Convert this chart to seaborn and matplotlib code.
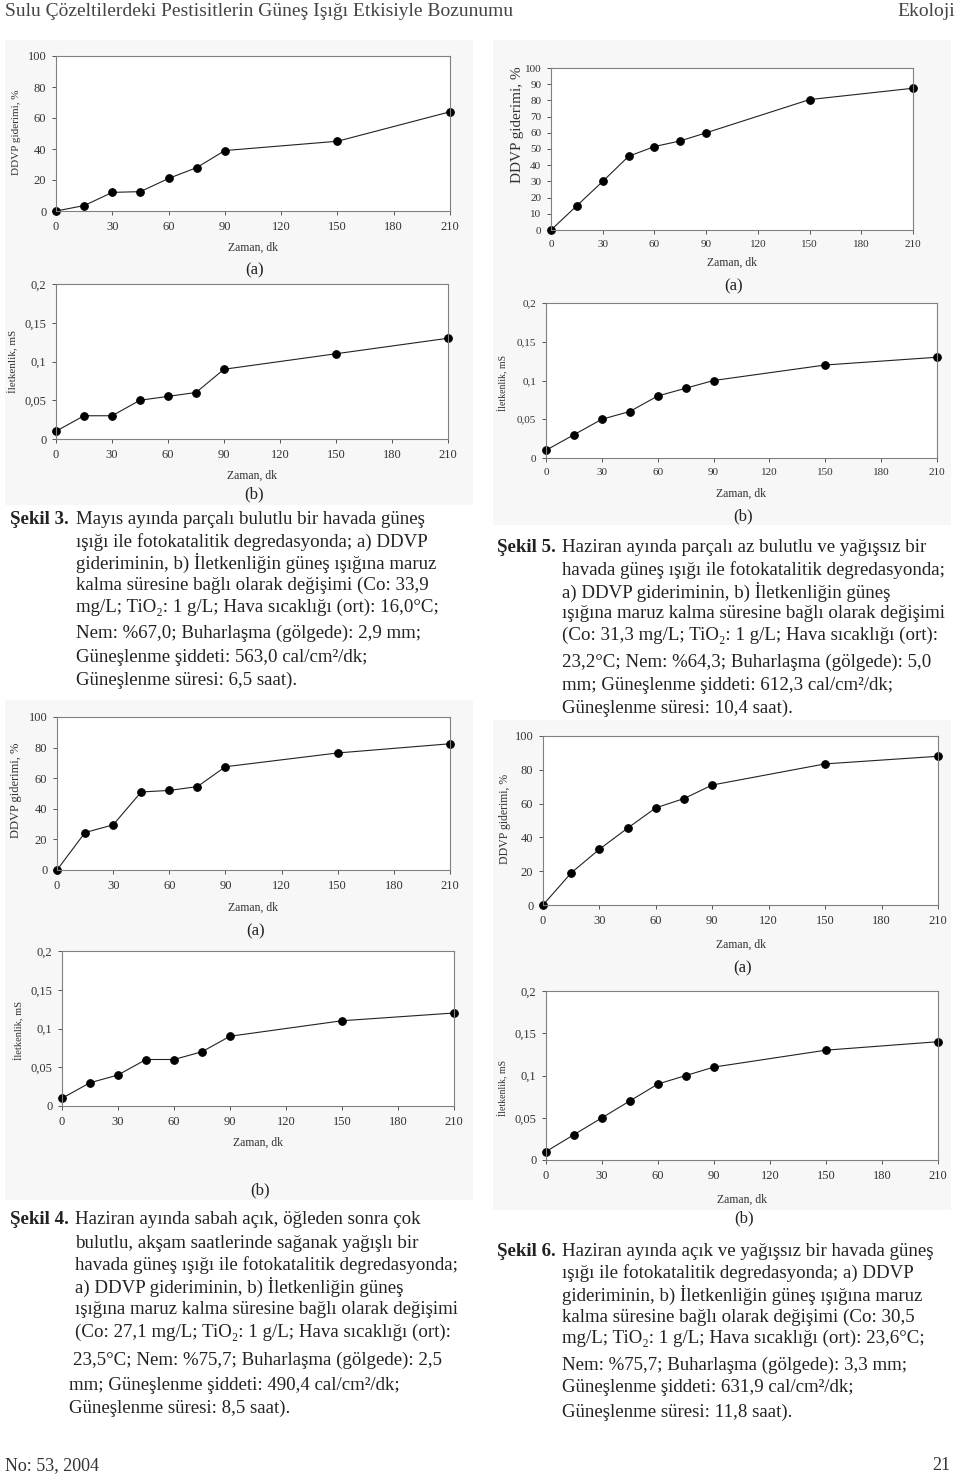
import numpy as np
import pandas as pd
import seaborn as sns
import matplotlib.pyplot as plt
from matplotlib.patches import Rectangle

W, H = 960, 1484
SERIF = ['Liberation Serif', 'DejaVu Serif']

# sampling times (dk) and axis ticks
zaman = [0, 15, 30, 45, 60, 75, 90, 150, 210]
x_ticks = [0, 30, 60, 90, 120, 150, 180, 210]

# values
sekil3_ddvp = [0, 3.5, 12, 12.5, 21, 28, 39, 45, 64]
sekil3_iletkenlik = [0.01, 0.03, 0.03, 0.05, 0.055, 0.06, 0.09, 0.11, 0.13]
sekil5_ddvp = [0, 15, 30, 45.5, 51.5, 55, 60, 80.5, 87.5]
sekil5_iletkenlik = [0.01, 0.03, 0.05, 0.06, 0.08, 0.09, 0.10, 0.12, 0.13]
sekil4_ddvp = [0, 24.5, 29.5, 51, 52, 54.5, 67.5, 76.5, 82.5]
sekil4_iletkenlik = [0.01, 0.03, 0.04, 0.06, 0.06, 0.07, 0.09, 0.11, 0.12]
sekil6_ddvp = [0, 19, 33, 45.5, 57.5, 63, 71, 83.5, 88]
sekil6_iletkenlik = [0.01, 0.03, 0.05, 0.07, 0.09, 0.10, 0.11, 0.13, 0.14]

ddvp_ticks_20 = [0, 20, 40, 60, 80, 100]
ddvp_ticks_10 = list(range(0, 101, 10))
ilet_ticks = [0, 0.05, 0.1, 0.15, 0.2]
ilet_labels = ['0', '0,05', '0,1', '0,15', '0,2']

header_left = 'Sulu Çözeltilerdeki Pestisitlerin Güneş Işığı Etkisiyle Bozunumu'
header_right = 'Ekoloji'
footer_left = 'No: 53, 2004'
footer_right = '21'

cap3 = ['Mayıs ayında parçalı bulutlu bir havada güneş',
        'ışığı ile fotokatalitik degredasyonda; a) DDVP',
        'gideriminin, b) İletkenliğin güneş ışığına maruz',
        'kalma süresine bağlı olarak değişimi (Co: 33,9',
        'mg/L; TiO₂: 1 g/L; Hava sıcaklığı (ort): 16,0°C;',
        'Nem: %67,0; Buharlaşma (gölgede): 2,9 mm;',
        'Güneşlenme şiddeti: 563,0 cal/cm²/dk;',
        'Güneşlenme süresi: 6,5 saat).']
cap5 = ['Haziran ayında parçalı az bulutlu ve yağışsız bir',
        'havada güneş ışığı ile fotokatalitik degredasyonda;',
        'a) DDVP gideriminin, b) İletkenliğin güneş',
        'ışığına maruz kalma süresine bağlı olarak değişimi',
        '(Co: 31,3 mg/L; TiO₂: 1 g/L; Hava sıcaklığı (ort):',
        '23,2°C; Nem: %64,3; Buharlaşma (gölgede): 5,0',
        'mm; Güneşlenme şiddeti: 612,3 cal/cm²/dk;',
        'Güneşlenme süresi: 10,4 saat).']
cap4 = ['Haziran ayında sabah açık, öğleden sonra çok',
        'bulutlu, akşam saatlerinde sağanak yağışlı bir',
        'havada güneş ışığı ile fotokatalitik degredasyonda;',
        'a) DDVP gideriminin, b) İletkenliğin güneş',
        'ışığına maruz kalma süresine bağlı olarak değişimi',
        '(Co: 27,1 mg/L; TiO₂: 1 g/L; Hava sıcaklığı (ort):',
        '23,5°C; Nem: %75,7; Buharlaşma (gölgede): 2,5',
        'mm; Güneşlenme şiddeti: 490,4 cal/cm²/dk;',
        'Güneşlenme süresi: 8,5 saat).']
cap6 = ['Haziran ayında açık ve yağışsız bir havada güneş',
        'ışığı ile fotokatalitik degredasyonda; a) DDVP',
        'gideriminin, b) İletkenliğin güneş ışığına maruz',
        'kalma süresine bağlı olarak değişimi (Co: 30,5',
        'mg/L; TiO₂: 1 g/L; Hava sıcaklığı (ort): 23,6°C;',
        'Nem: %75,7; Buharlaşma (gölgede): 3,3 mm;',
        'Güneşlenme şiddeti: 631,9 cal/cm²/dk;',
        'Güneşlenme süresi: 11,8 saat).']

sns.set_theme(style='white')
plt.rcParams['font.family'] = SERIF

fig = plt.figure(figsize=(W / 100, H / 100), dpi=100)


def ftext(x, y, s, **kw):
    kw.setdefault('family', SERIF)
    return fig.text(x / W, 1 - y / H, s, **kw)


# faint grey blocks behind the pasted charts
for (bx0, bx1, by0, by1) in [(5, 473, 40, 505), (493, 951, 40, 525),
                             (5, 473, 700, 1200), (493, 951, 720, 1210)]:
    fig.patches.append(Rectangle((bx0 / W, 1 - by1 / H), (bx1 - bx0) / W, (by1 - by0) / H,
                                 transform=fig.transFigure, facecolor='#f7f7f7',
                                 edgecolor='none', zorder=-10))


def panel(box, yvals, yticks, ylabels, ymax, ylabel, lab_xy, lab_fs, tick_fs, xlab_y, sub, sub_y):
    x0, x1, yt, yb = box
    ax = fig.add_axes([x0 / W, 1 - yb / H, (x1 - x0) / W, (yb - yt) / H])
    ax.set_zorder(2)
    ax.set_facecolor('white')
    sns.lineplot(x=zaman, y=yvals, ax=ax, color='#222222', lw=0.8, marker='o',
                 markersize=5.5, markeredgecolor='black', markerfacecolor='black',
                 clip_on=False)
    ax.set_xlim(0, 210)
    ax.set_ylim(0, ymax)
    ax.set_xticks(x_ticks)
    ax.set_xticklabels([str(t) for t in x_ticks])
    ax.set_yticks(yticks)
    ax.set_yticklabels(ylabels)
    ax.set_xlabel('')
    ax.set_ylabel('')
    ax.tick_params(axis='both', which='major', direction='out', length=3, width=0.7,
                   colors='#555555', labelsize=tick_fs, labelcolor='#333333', pad=4,
                   bottom=True, left=True)
    for sp in ax.spines.values():
        sp.set_color('#808080')
        sp.set_linewidth(0.8)
    for lb in ax.get_xticklabels() + ax.get_yticklabels():
        lb.set_family(SERIF)
    ftext(lab_xy[0], lab_xy[1], ylabel, rotation=90, ha='center', va='center',
          fontsize=lab_fs, color='#333333')
    ftext((x0 + x1) / 2, xlab_y, 'Zaman, dk', ha='center', va='center',
          fontsize=8.5, color='#333333')
    ftext((x0 + x1) / 2 + 2, sub_y, sub, ha='center', va='center', fontsize=12,
          color='#222222')
    return ax


panel((56, 450, 56, 211), sekil3_ddvp, ddvp_ticks_20, [str(t) for t in ddvp_ticks_20], 100,
      'DDVP giderimi, %', (17, 132), 8, 9, 248, '(a)', 270)
panel((56, 448, 284, 439), sekil3_iletkenlik, ilet_ticks, ilet_labels, 0.2,
      'İletkenlik, mS', (13, 361), 8, 9, 476, '(b)', 494)
panel((551, 913, 68, 230), sekil5_ddvp, ddvp_ticks_10, [str(t) for t in ddvp_ticks_10], 100,
      'DDVP giderimi, %', (517, 125), 11, 8, 263, '(a)', 286)
panel((546, 937, 303, 458), sekil5_iletkenlik, ilet_ticks, ilet_labels, 0.2,
      'İletkenlik, mS', (503, 383), 7, 8, 494, '(b)', 516)
panel((57, 450, 717, 870), sekil4_ddvp, ddvp_ticks_20, [str(t) for t in ddvp_ticks_20], 100,
      'DDVP giderimi, %', (16, 790), 9, 9, 908, '(a)', 931)
panel((62, 454, 951, 1106), sekil4_iletkenlik, ilet_ticks, ilet_labels, 0.2,
      'İletkenlik, mS', (19, 1030), 7.5, 9, 1143, '(b)', 1190)
panel((543, 938, 736, 905), sekil6_ddvp, ddvp_ticks_20, [str(t) for t in ddvp_ticks_20], 100,
      'DDVP giderimi, %', (505, 819), 8.5, 9, 945, '(a)', 968)
panel((546, 938, 991, 1160), sekil6_iletkenlik, ilet_ticks, ilet_labels, 0.2,
      'İletkenlik, mS', (503, 1088), 7, 9, 1200, '(b)', 1218)

# header / footer
ftext(5, 11, header_left, ha='left', va='center', fontsize=14, color='#444444')
ftext(955, 11, header_right, ha='right', va='center', fontsize=14, color='#444444')
ftext(5, 1466, footer_left, ha='left', va='center', fontsize=13, color='#333333')
ftext(950, 1466, footer_right, ha='right', va='center', fontsize=13, color='#333333')

# figure captions
CAP_FS = 13.6


def caption(label, lx, ly, lines, xs, ys):
    ftext(lx, ly, label, ha='left', va='center', fontsize=CAP_FS, fontweight='bold',
          color='#222222')
    for s, x, y in zip(lines, xs, ys):
        ftext(x, y, s, ha='left', va='center', fontsize=CAP_FS, color='#222222')


caption('Şekil 3.', 10, 520, cap3, [76] * 8, [520, 542, 563, 585, 607, 633, 657, 680])
caption('Şekil 5.', 497, 548, cap5, [562] * 8, [548, 570, 592, 613, 635, 662, 685, 708])
caption('Şekil 4.', 10, 1220, cap4, [75] * 6 + [73, 69, 69],
        [1220, 1243, 1265, 1287, 1310, 1332, 1360, 1385, 1408])
caption('Şekil 6.', 497, 1252, cap6, [562] * 8,
        [1252, 1273, 1295, 1317, 1338, 1365, 1388, 1412])

fig.savefig('out.png', dpi=100, facecolor='white')
